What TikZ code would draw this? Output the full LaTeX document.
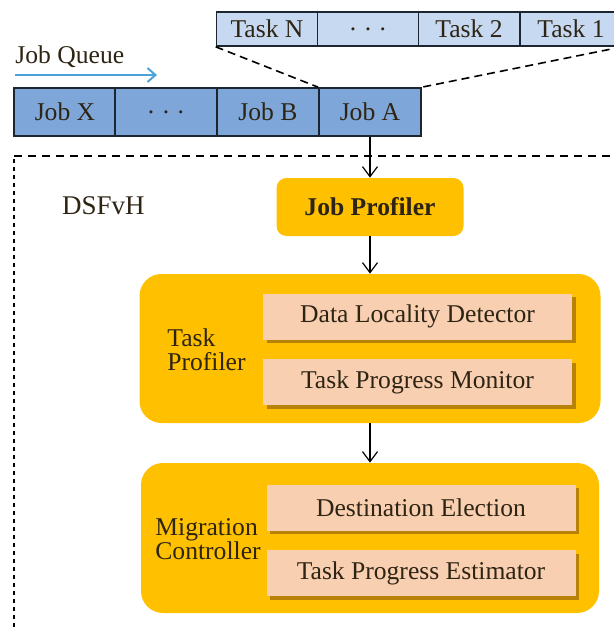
\documentclass[tikz,border=0pt]{standalone}
\usepackage{fontspec}
\setmainfont{Liberation Serif}
\usetikzlibrary{arrows.meta,shadows}
\definecolor{jobblue}{HTML}{7EA6D8}
\definecolor{taskblue}{HTML}{C6D9F1}
\definecolor{profyellow}{HTML}{FFC000}
\definecolor{peach}{HTML}{F8CFB0}
\definecolor{ink}{HTML}{2E2414}
\definecolor{queueblue}{HTML}{4BA3DA}
\definecolor{boxline}{HTML}{1C2633}
\definecolor{shadowbrown}{HTML}{8A5A10}

\begin{document}
\begin{tikzpicture}[x=0.5pt, y=-0.5pt, font=\fontsize{12.8}{12.2}\selectfont, text=ink]
\tikzstyle{job}=[draw=boxline,line width=0.8pt,fill=jobblue,minimum width=51pt,minimum height=24pt,inner sep=0pt]
\tikzstyle{task}=[draw=boxline,line width=0.8pt,fill=taskblue,minimum width=50.5pt,minimum height=17pt,inner sep=0pt]
\tikzstyle{profiler}=[fill=profyellow,inner sep=0pt]
\tikzstyle{part}=[fill=peach,minimum width=154.5pt,minimum height=23pt,inner sep=0pt,
  drop shadow={shadow xshift=1.8pt,shadow yshift=-1.8pt,fill=shadowbrown,opacity=0.6}]
\tikzstyle{flow}=[-{Straight Barb[length=5pt,width=7.5pt]},line width=0.6pt,draw=black]
\useasboundingbox (0,0) rectangle (614,627);
  % system frame
  \draw[line width=0.7pt,dash pattern=on 2pt off 2pt] (14,627) -- (14,156);
  \draw[line width=0.7pt,dash pattern=on 4pt off 3pt] (14,156) -- (614,156);
  \node[anchor=base west] (dsfvh) at (55,214) {\fontsize{13.5}{14}\selectfont DSFvH};
  % queue
  \node[anchor=base west,inner sep=0pt] (queue) at (15,63) {Job Queue};
  \coordinate (qstart) at (15,75);
  \coordinate (qend) at (157,75);
  \draw[queueblue,line width=1pt,-{Straight Barb[length=4pt,width=7pt]}] (qstart) -- (qend);
  \foreach \place/\name/\label in {{(65,112)/jobX/Job X},
                                   {(166,112)/jobdots/. . .},
                                   {(268,112)/jobB/Job B},
                                   {(370,112)/jobA/Job A}}
    \node[job] (\name) at \place {\label};
  \foreach \place/\name/\label in {{(267,29)/taskN/Task N},
                                   {(368,29)/taskdots/. . .},
                                   {(469,29)/task2/Task 2},
                                   {(571,29)/task1/Task 1}}
    \node[task] (\name) at \place {\label};
  \draw[line width=0.8pt,dash pattern=on 4pt off 2.5pt] (taskN.south west) -- (jobA.north west);
  \draw[line width=0.8pt,dash pattern=on 4pt off 2.5pt] (task1.south east) -- (jobA.north east);
  % profilers
  \node[profiler,rounded corners=5pt,minimum width=93.5pt,minimum height=29pt,font=\fontsize{12.8}{14}\selectfont\bfseries] (jobprof) at (370,207) {Job Profiler};
  \node[profiler,rounded corners=11pt,minimum width=230.5pt,minimum height=74.5pt] (taskprof) at (370,348.5) {};
  \node[profiler,rounded corners=11pt,minimum width=229pt,minimum height=75pt] (migctrl) at (370,538) {};
  \node[anchor=west,align=left,inner sep=0pt] (tplabel) at (167,350) {Task\\Profiler};
  \node[anchor=west,align=left,inner sep=0pt] (mclabel) at (155,539) {Migration\\Controller};
  \node[part] (locality) at (417.5,316.5) {Data Locality Detector};
  \node[part] (monitor) at (417.5,382) {Task Progress Monitor};
  \node[part] (election) at (421,507.5) {Destination Election};
  \node[part] (estimator) at (421,573) {Task Progress Estimator};
  \foreach \source/\dest in {jobA/jobprof,jobprof/taskprof,taskprof/migctrl}
      \path (\source) edge[flow] (\dest);
\end{tikzpicture}
\end{document}
